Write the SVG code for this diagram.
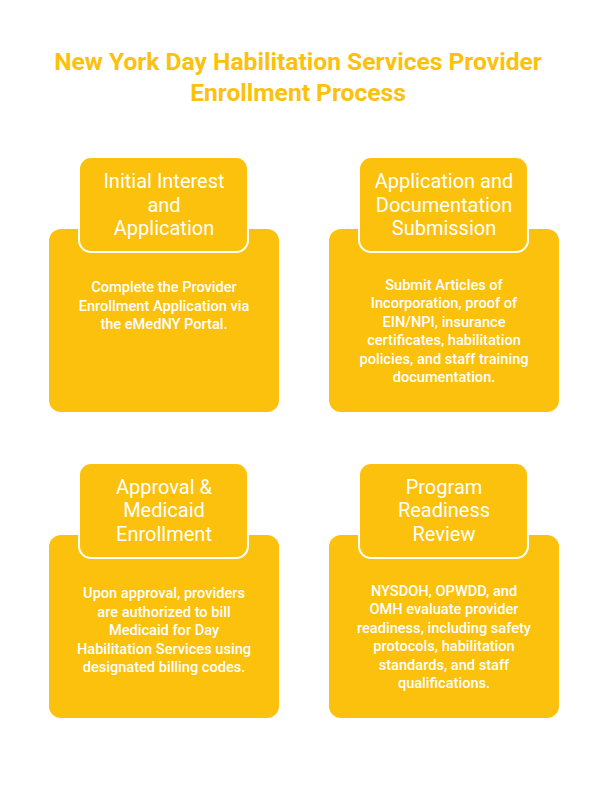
<svg xmlns="http://www.w3.org/2000/svg" width="608" height="793" viewBox="0 0 608 793">
  <style>
    .title { font-family: Roboto, "Liberation Sans", sans-serif; font-weight: 700; font-size: 24.6px; fill: #FBC10C; text-anchor: middle; }
    .body { fill: #FBC10C; }
    .head { fill: #FBC10C; stroke: #FFFFFF; stroke-width: 2; }
    .ht { font-family: Roboto, "Liberation Sans", sans-serif; font-size: 20px; fill: #FFFFFF; text-anchor: middle; }
    .bt { font-family: Roboto, "Liberation Sans", sans-serif; font-weight: 500; font-size: 14.6px; fill: #FFFFFF; text-anchor: middle; }
  </style>
  <rect width="608" height="793" fill="#FFFFFF"/>
  <g id="title">
    <text class="title" x="298" y="69.5">New York Day Habilitation Services Provider</text>
    <text class="title" x="298" y="100.5">Enrollment Process</text>
  </g>
  <g id="connectors"></g>
  <g id="node1">
    <rect class="body" x="49" y="229" width="230" height="183" rx="12"/>
    <rect class="head" x="79" y="157" width="169" height="95" rx="12"/>
    <text class="ht" x="164" y="188">Initial Interest</text>
    <text class="ht" x="164" y="211.5">and</text>
    <text class="ht" x="164" y="235">Application</text>
    <text class="bt" x="164" y="292">Complete the Provider</text>
    <text class="bt" x="164" y="310.5">Enrollment Application via</text>
    <text class="bt" x="164" y="329">the eMedNY Portal.</text>
  </g>
  <g id="node2">
    <rect class="body" x="329" y="229" width="230" height="183" rx="12"/>
    <rect class="head" x="359" y="157" width="169" height="95" rx="12"/>
    <text class="ht" x="444" y="188">Application and</text>
    <text class="ht" x="444" y="211.5">Documentation</text>
    <text class="ht" x="444" y="235">Submission</text>
    <text class="bt" x="444" y="290">Submit Articles of</text>
    <text class="bt" x="444" y="308.4">Incorporation, proof of</text>
    <text class="bt" x="444" y="326.8">EIN/NPI, insurance</text>
    <text class="bt" x="444" y="345.2">certificates, habilitation</text>
    <text class="bt" x="444" y="363.6">policies, and staff training</text>
    <text class="bt" x="444" y="382">documentation.</text>
  </g>
  <g id="node3">
    <rect class="body" x="49" y="535" width="230" height="183" rx="12"/>
    <rect class="head" x="79" y="463" width="169" height="95" rx="12"/>
    <text class="ht" x="164" y="493.5">Approval &amp;</text>
    <text class="ht" x="164" y="517">Medicaid</text>
    <text class="ht" x="164" y="540.5">Enrollment</text>
    <text class="bt" x="164" y="598.3">Upon approval, providers</text>
    <text class="bt" x="164" y="616.7">are authorized to bill</text>
    <text class="bt" x="164" y="635.1">Medicaid for Day</text>
    <text class="bt" x="164" y="653.5">Habilitation Services using</text>
    <text class="bt" x="164" y="671.9">designated billing codes.</text>
  </g>
  <g id="node4">
    <rect class="body" x="329" y="535" width="230" height="183" rx="12"/>
    <rect class="head" x="359" y="463" width="169" height="95" rx="12"/>
    <text class="ht" x="444" y="493.5">Program</text>
    <text class="ht" x="444" y="517">Readiness</text>
    <text class="ht" x="444" y="540.5">Review</text>
    <text class="bt" x="444" y="596">NYSDOH, OPWDD, and</text>
    <text class="bt" x="444" y="614.4">OMH evaluate provider</text>
    <text class="bt" x="444" y="632.8">readiness, including safety</text>
    <text class="bt" x="444" y="651.2">protocols, habilitation</text>
    <text class="bt" x="444" y="669.6">standards, and staff</text>
    <text class="bt" x="444" y="688">qualifications.</text>
  </g>
</svg>
